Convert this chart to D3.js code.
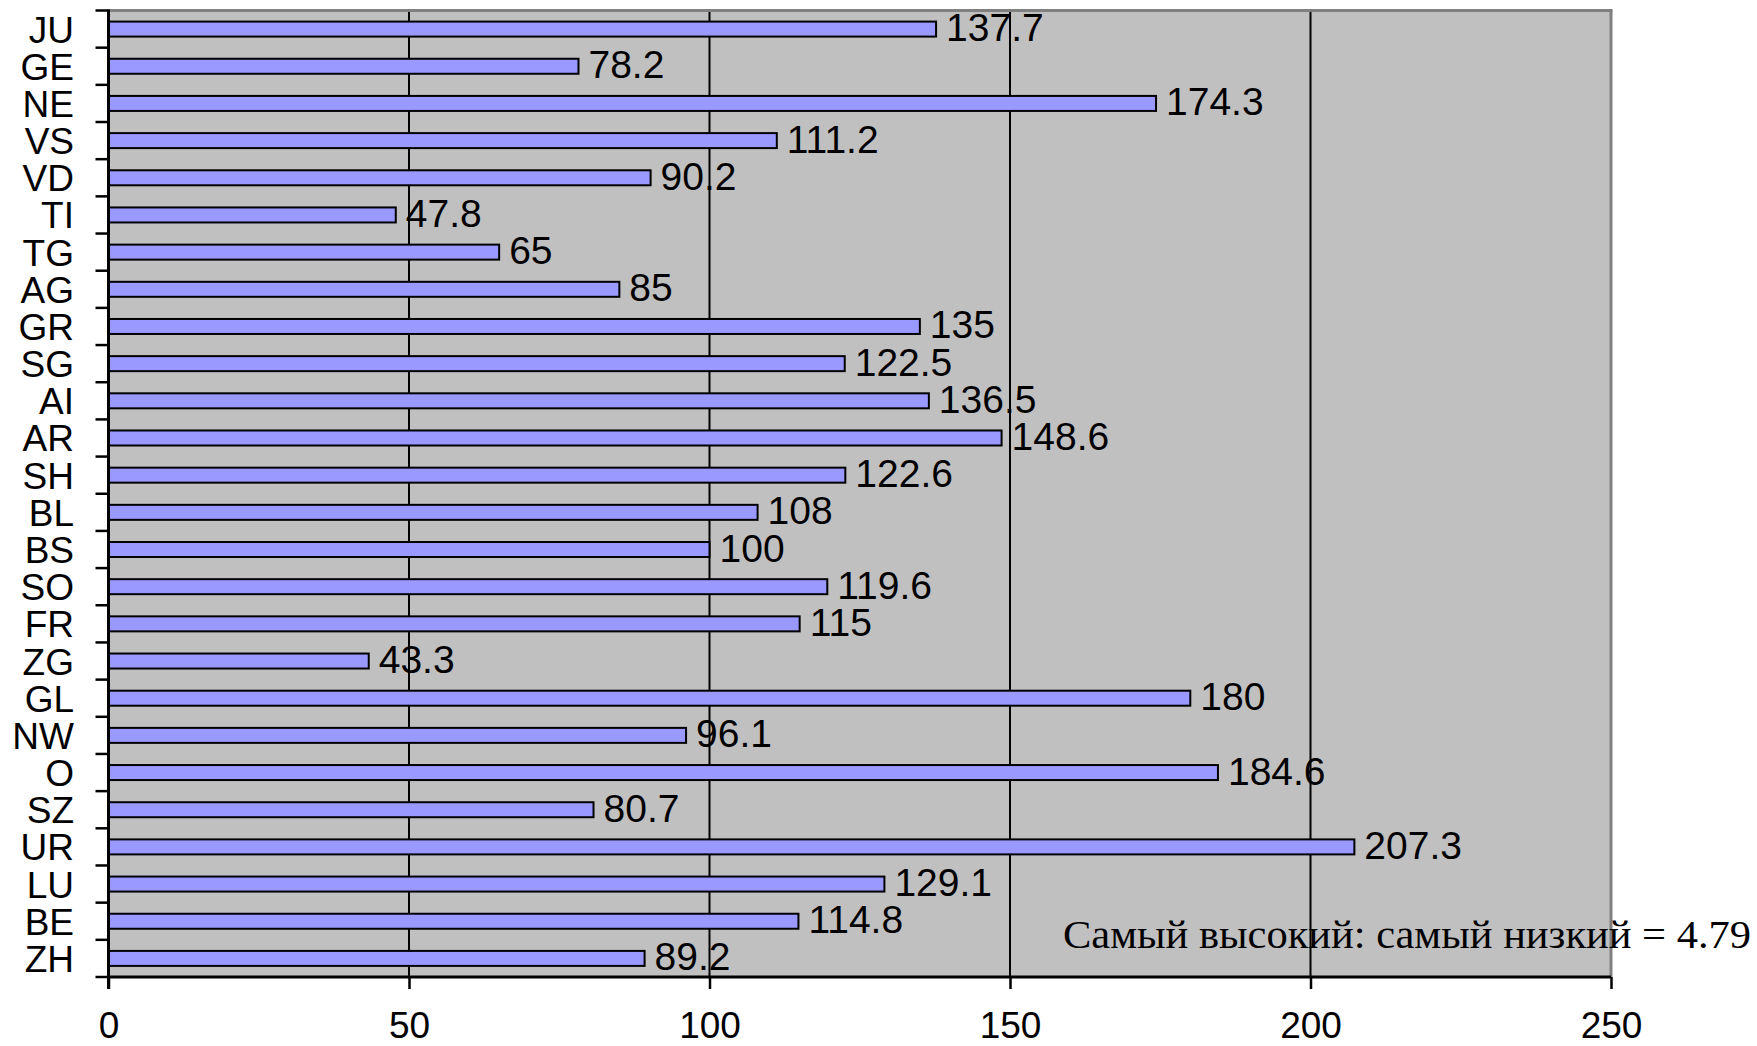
<!DOCTYPE html>
<html><head><meta charset="utf-8">
<script src="https://cdn.jsdelivr.net/npm/d3@7"></script>
<style>
html,body{margin:0;padding:0;background:#fff;}
svg{display:block;}
</style></head>
<body>
<svg id="chart" width="1757" height="1046"></svg>
<script>
const categories = ["JU","GE","NE","VS","VD","TI","TG","AG","GR","SG","AI","AR","SH","BL","BS","SO","FR","ZG","GL","NW","O","SZ","UR","LU","BE","ZH"];
const values = [137.7,78.2,174.3,111.2,90.2,47.8,65,85,135,122.5,136.5,148.6,122.6,108,100,119.6,115,43.3,180,96.1,184.6,80.7,207.3,129.1,114.8,89.2];
const valueLabels = ["137.7","78.2","174.3","111.2","90.2","47.8","65","85","135","122.5","136.5","148.6","122.6","108","100","119.6","115","43.3","180","96.1","184.6","80.7","207.3","129.1","114.8","89.2"];
const xTicks = [0,50,100,150,200,250];
const gridValues = [50,100,150,200];
const annotation = "Самый высокий: самый низкий = 4.79";

const svg = d3.select("#chart");
const L = 108.5, R = 1611, T = 10.5, B = 977;

const x = d3.scaleLinear().domain([0,250]).range([L,R]);
const yOuter = d3.scaleBand().domain(categories).range([T,B]).padding(0);

// plot background
svg.append("rect").attr("x",L).attr("y",T).attr("width",R-L).attr("height",B-T).attr("fill","#C0C0C0");

// gridlines
svg.append("g").selectAll("line").data(gridValues).join("line")
  .attr("x1",d=>x(d)).attr("x2",d=>x(d)).attr("y1",T).attr("y2",B)
  .attr("stroke","#000").attr("stroke-width",2);

// top and right border (gray)
svg.append("line").attr("x1",L).attr("x2",R+1.5).attr("y1",T).attr("y2",T).attr("stroke","#808080").attr("stroke-width",3);
svg.append("line").attr("x1",R).attr("x2",R).attr("y1",T).attr("y2",B).attr("stroke","#808080").attr("stroke-width",3);

// bars
svg.append("g").selectAll("rect").data(values).join("rect")
  .attr("x",x(0))
  .attr("y",(d,i)=>yOuter(categories[i]) + yOuter.bandwidth()/2 - 7.5)
  .attr("width",d=>x(d)-x(0))
  .attr("height",15)
  .attr("fill","#9999FF").attr("stroke","#000").attr("stroke-width",2);

// value labels
svg.append("g").selectAll("text").data(values).join("text")
  .attr("x",d=>x(d)+10)
  .attr("y",(d,i)=>yOuter(categories[i]) + yOuter.bandwidth()/2 + 12)
  .attr("font-family","Arial, 'Liberation Sans', sans-serif")
  .attr("font-size",39).attr("fill","#000")
  .text((d,i)=>valueLabels[i]);

// x axis
const xAxis = d3.axisBottom(x).tickValues(xTicks).tickSize(12).tickPadding(23).tickFormat(d3.format("d"));
const gx = svg.append("g").attr("transform",`translate(0,${B})`).call(xAxis);
gx.select(".domain").attr("stroke","#000").attr("stroke-width",3).attr("d",`M${L},0H${R}`);
gx.selectAll(".tick line").attr("stroke","#000").attr("stroke-width",2.5);
gx.selectAll(".tick text").attr("font-family","Arial, 'Liberation Sans', sans-serif").attr("font-size",37).attr("fill","#000");

// y axis line
svg.append("line").attr("x1",L).attr("x2",L).attr("y1",T-1).attr("y2",B+12).attr("stroke","#000").attr("stroke-width",3);
// y tick marks at band boundaries
const bounds = categories.map(c=>yOuter(c)).concat([B]);
svg.append("g").selectAll("line").data(bounds).join("line")
  .attr("x1",L-13).attr("x2",L).attr("y1",d=>d).attr("y2",d=>d)
  .attr("stroke","#000").attr("stroke-width",2.5);

// category labels
svg.append("g").selectAll("text").data(categories).join("text")
  .attr("x",74)
  .attr("y",d=>yOuter(d)+yOuter.bandwidth()/2+13.5)
  .attr("text-anchor","end")
  .attr("font-family","Arial, 'Liberation Sans', sans-serif")
  .attr("font-size",37).attr("fill","#000")
  .text(d=>d);

// annotation
svg.append("text").attr("x",1063).attr("y",948)
  .attr("font-family","'Times New Roman', 'Liberation Serif', serif")
  .attr("font-size",41).attr("fill","#000")
  .attr("textLength",688).attr("lengthAdjust","spacingAndGlyphs")
  .text(annotation);
</script>
</body></html>
